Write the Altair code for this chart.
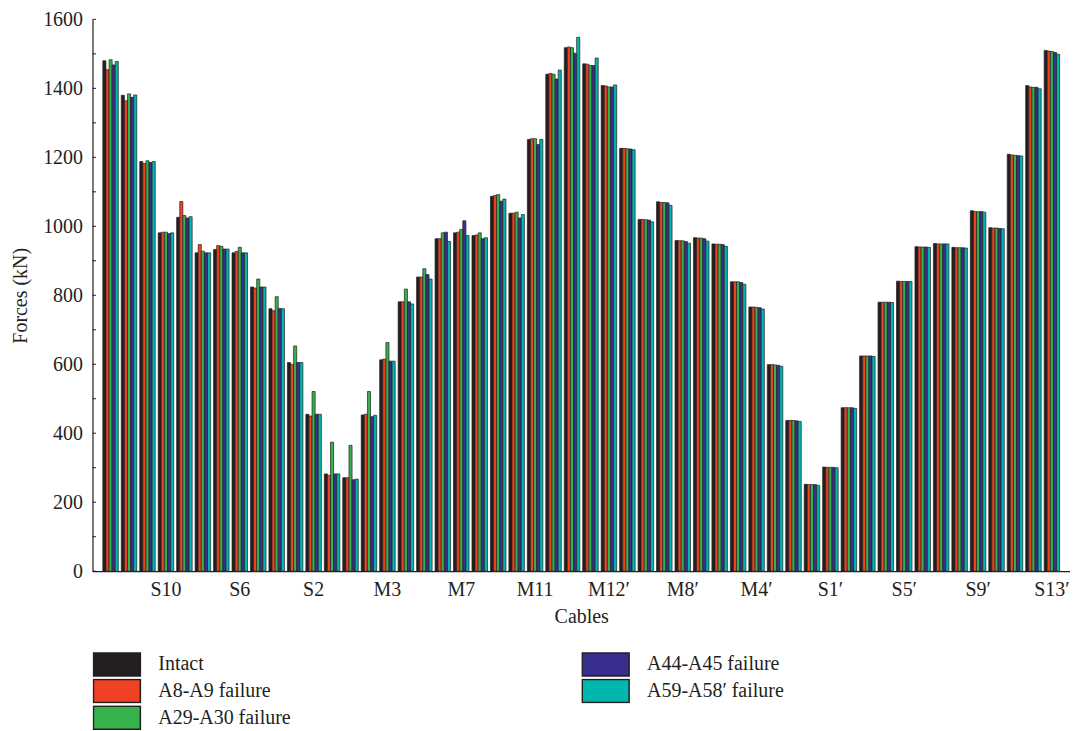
import altair as alt
import pandas as pd

cables = [
    "S13", "S12", "S11", "S10", "S9", "S8", "S7", "S6", "S5", "S4", "S3", "S2", "S1",
    "M1", "M2", "M3", "M4", "M5", "M6", "M7", "M8", "M9", "M10", "M11", "M12", "M13",
    "M13′", "M12′", "M11′", "M10′", "M9′", "M8′", "M7′", "M6′", "M5′", "M4′", "M3′", "M2′", "M1′",
    "S1′", "S2′", "S3′", "S4′", "S5′", "S6′", "S7′", "S8′", "S9′", "S10′", "S11′", "S12′", "S13′",
]
label_cables = ["S10", "S6", "S2", "M3", "M7", "M11", "M12′", "M8′", "M4′", "S1′", "S5′", "S9′", "S13′"]

series = ["Intact", "A8-A9 failure", "A29-A30 failure", "A44-A45 failure", "A59-A58′ failure"]
colors = ["#231f20", "#ef4123", "#35b34a", "#382f8f", "#00b7ad"]

intact = [1480, 1380, 1188, 981, 1026, 923, 933, 923, 824, 761, 605, 455, 282,
          271, 453, 613, 781, 853, 964, 981, 973, 1087, 1038, 1252, 1441, 1518,
          1471, 1408, 1226, 1020, 1071, 959, 967, 949, 839, 766, 599, 437, 252,
          302, 474, 624, 780, 841, 941, 950, 939, 1045, 996, 1209, 1408, 1510]
a8_a9 = [1454, 1364, 1182, 983, 1072, 947, 944, 927, 821, 755, 600, 450, 278,
         271, 455, 615, 781, 853, 964, 983, 975, 1089, 1038, 1254, 1443, 1520,
         1470, 1407, 1226, 1020, 1069, 958, 966, 948, 839, 766, 599, 437, 251,
         301, 474, 624, 780, 840, 940, 949, 938, 1043, 995, 1207, 1404, 1508]
a29_a30 = [1483, 1384, 1190, 983, 1031, 928, 942, 939, 847, 796, 653, 521, 374,
           365, 521, 663, 818, 877, 981, 991, 981, 1092, 1041, 1254, 1441, 1518,
           1466, 1404, 1225, 1019, 1069, 958, 966, 948, 839, 765, 598, 437, 251,
           301, 474, 624, 780, 840, 940, 949, 938, 1042, 995, 1206, 1403, 1507]
a44_a45 = [1468, 1374, 1185, 979, 1024, 923, 934, 923, 824, 762, 605, 455, 282,
           265, 448, 609, 781, 860, 983, 1016, 964, 1073, 1024, 1237, 1427, 1502,
           1466, 1404, 1224, 1018, 1068, 956, 964, 947, 837, 764, 597, 436, 251,
           301, 474, 624, 780, 840, 940, 949, 938, 1043, 994, 1205, 1403, 1504]
a59_a58 = [1478, 1381, 1188, 981, 1028, 923, 934, 923, 824, 761, 605, 455, 282,
           267, 452, 609, 775, 847, 956, 973, 967, 1079, 1034, 1252, 1453, 1548,
           1488, 1410, 1222, 1013, 1061, 951, 957, 942, 832, 760, 594, 434, 249,
           300, 472, 623, 779, 840, 939, 949, 937, 1041, 993, 1204, 1399, 1499]

y_labels = [0, 200, 400, 600, 800, 1000, 1200, 1400, 1600]
y_ticks = [0, 100, 200, 300, 400, 500, 600, 700, 800, 900, 1000, 1100, 1200, 1300, 1400, 1500, 1600]

values = [intact, a8_a9, a29_a30, a44_a45, a59_a58]
rows = []
for s, vals in zip(series, values):
    for c, v in zip(cables, vals):
        rows.append({"cable": c, "series": s, "force": v})
df = pd.DataFrame(rows)

FONT = "Liberation Serif"
INK = "#231f20"
FS = 20

bars = alt.Chart(df).mark_bar(stroke=INK, strokeWidth=0.7).encode(
    x=alt.X("cable:N", sort=cables,
            scale=alt.Scale(paddingInner=0.16, paddingOuter=0.56),
            axis=alt.Axis(values=label_cables, title="Cables", labelAngle=0, ticks=False,
                          labelPadding=8, titlePadding=7)),
    xOffset=alt.XOffset("series:N", sort=series,
                        scale=alt.Scale(paddingInner=0, paddingOuter=0)),
    y=alt.Y("force:Q", scale=alt.Scale(domain=[0, 1600], nice=False),
            axis=alt.Axis(values=y_labels, format="d", title="Forces (kN)", ticks=False,
                          grid=False, labelPadding=10, titlePadding=12)),
    color=alt.Color("series:N", scale=alt.Scale(domain=series, range=colors),
                    legend=alt.Legend(title=None, orient="none", legendX=0, legendY=634.2,
                                      columns=2, columnPadding=291, rowPadding=1.7,
                                      clipHeight=25, padding=0,
                                      symbolType="M-1,-0.49H1V0.49H-1Z", symbolSize=2209,
                                      symbolStrokeColor=INK, symbolStrokeWidth=1.5,
                                      labelFont=FONT, labelFontSize=FS, labelColor=INK,
                                      labelOffset=17)),
)

tick_df = pd.DataFrame({"force": y_ticks})
ticks = alt.Chart(tick_df).mark_rule(color=INK, strokeWidth=1).encode(
    y=alt.Y("force:Q"),
    x=alt.value(0),
    x2=alt.value(3.5),
)

chart = alt.layer(bars, ticks).properties(
    width=980, height=553.2,
    autosize=alt.AutoSizeParams(type="none"),
    padding={"left": 84.7, "top": 10.5, "right": 0, "bottom": 160},
).configure_view(stroke=None).configure_axis(
    labelFont=FONT, labelFontSize=FS, labelColor=INK,
    titleFont=FONT, titleFontSize=FS, titleFontWeight="normal", titleColor=INK,
    domainColor=INK, domainWidth=1.2,
)

chart.save("out.html", embed_options={"renderer": "svg", "actions": False})
